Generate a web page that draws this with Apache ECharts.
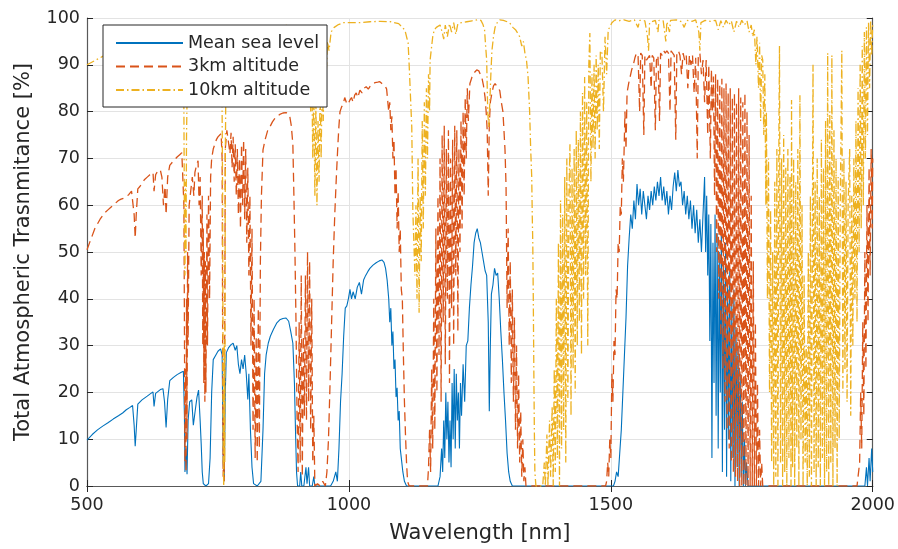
<!DOCTYPE html>
<html>
<head>
<meta charset="utf-8">
<script src="https://cdn.jsdelivr.net/npm/echarts@6/dist/echarts.min.js"></script>
<style>
html,body{margin:0;padding:0;background:#fff;}
#chart{width:898px;height:549px;}
</style>
</head>
<body>
<div id="chart"></div>
<script>
// ---- data (wavelength nm, transmittance %) ----
const seriesNames = ['Mean sea level', '3km altitude', '10km altitude'];
const xTicks = [500, 1000, 1500, 2000];
const yTicks = [0, 10, 20, 30, 40, 50, 60, 70, 80, 90, 100];

const seaLevel = [
[500,9.8],[510,11],[520,12],[530,12.8],[540,13.5],[550,14.3],[560,15],[568,15.6],[575,16.3],[582,16.8],[587,17.2],[590,13],[592,8.5],[594,12],[597,17.5],
[605,18.4],[615,19.2],[622,19.8],[626,20.1],[628,17],[631,19.8],[640,20.6],[645,20.8],[648,18],[651,12.5],[654,18.5],[658,22.5],[665,23.2],[672,23.8],[680,24.3],[684,24.5],
[686,15],[687,3],[689,8],[691,2.5],[693,14],[696,18],[700,18.4],[703,13],[706,15.6],[710,19],[713,20.5],[716,14],[718,9],[720,3],[722,0.5],[727,0],[732,0.5],
[735,6],[738,20],[741,27],[746,28],[750,28.8],[755,29.3],[758,28],[760,5],[762,1],[764,20],[766,28.5],[770,29.5],[775,30.2],[779,30.5],[783,29],[786,30],[789,26],
[792,24],[795,27],[798,25],[801,28],[804,24],[807,18.5],[809,24],[812,12],[815,4],[818,0.5],[825,0],[832,1],[836,12],[839,24],[842,28],[846,30.5],[850,32],
[856,33.5],[862,34.8],[868,35.5],[874,35.8],[880,35.9],[885,35.2],[889,33],[893,30.5],[896,22],[898,12],[900,3],[902,0],[906,0],[908,3],[910,0],[914,0],
[918,4],[920,0.5],[923,4],[925,0],[930,0],[933,2],[935,0],[965,0],[970,1],[975,3],[978,1],[981,8],[984,18],[987,24],[990,32],[993,38],[996,38.5],[999,40],
[1002,42],[1005,40],[1008,41.5],[1012,40],[1016,42.5],[1020,43.5],[1024,41],[1028,44],[1032,45],[1036,45.8],[1040,46.5],[1046,47.2],[1052,47.7],[1058,48.1],
[1063,48.3],[1067,47.8],[1070,46.5],[1073,44],[1076,40],[1078,35],[1080,38],[1082,30],[1084,33],[1086,25],[1088,27],[1090,19],[1092,21],[1094,14],[1096,16],
[1098,8],[1100,6],[1103,3],[1106,1],[1110,0],[1170,0],[1174,2],[1177,8],[1179,3],[1181,14],[1183,6],[1185,20],[1187,10],[1189,18],[1191,5],[1193,14],[1195,4],
[1197,22],[1199,10],[1201,25],[1203,8],[1205,24],[1207,14],[1209,20],[1211,8],[1213,22],[1215,15],[1218,26],[1221,18],[1224,30],[1227,31],[1230,38],[1233,43],
[1236,47],[1239,52],[1242,54],[1245,55],[1248,53],[1251,52],[1254,50],[1257,48],[1260,46],[1263,45],[1266,35],[1268,16],[1270,30],[1272,41],[1275,43],[1278,46.5],
[1281,45],[1284,45.5],[1287,40],[1290,33],[1293,27],[1296,20],[1299,14],[1302,7],[1305,3],[1308,1],[1312,0],[1505,0],[1508,1],[1511,3],[1514,2],[1517,7],
[1520,12],[1523,20],[1526,28],[1529,36],[1532,47],[1535,53],[1538,58],[1541,55],[1544,61],[1547,57],[1550,64.5],[1553,60],[1556,63.5],[1559,58],[1562,63],
[1565,60],[1568,57],[1571,62],[1574,59],[1577,63],[1580,60],[1583,64],[1586,61],[1589,65],[1592,62],[1595,66],[1598,61],[1601,64],[1604,60],[1607,63],[1610,58],
[1613,62],[1616,59],[1619,64],[1622,67],[1625,63],[1628,67.5],[1631,64],[1634,65],[1637,60],[1640,63],[1643,58],[1646,62],[1649,57],[1652,61],[1655,55],[1658,60],
[1661,54],[1664,59],[1667,52],[1670,57],[1673,50],[1676,58],[1679,66],[1681,50],[1683,62],[1685,45],[1687,58],[1689,31],[1691,56],[1693,6],[1695,52],[1697,22],
[1699,58],[1701,15],[1703,54],[1705,8],[1707,50],[1709,20],[1711,55],[1713,3],[1715,48],[1717,12],[1719,52],[1721,2],[1723,44],[1725,10],[1727,46],[1729,1],
[1731,40],[1733,6],[1735,42],[1737,0],[1739,34],[1741,4],[1743,30],[1745,0],[1747,24],[1749,2],[1751,18],[1753,0],[1755,10],[1757,0],[1759,5],[1762,0],
[1985,0],[1988,4],[1990,0],[1993,6],[1995,1],[1998,8],[2000,3]
];

const alt3km = [
[500,50.5],[505,52],[510,53.5],[515,55],[520,56],[525,57],[530,57.8],[535,58.5],[540,59],[545,59.5],[550,60],[555,60.5],[560,61],[565,61.3],[570,61.5],[575,61.8],
[580,62.3],[585,63],[588,63.3],[590,58],[592,53],[594,58],[597,63.5],[601,64],[605,64.7],[610,65.5],[615,66],[620,66.5],[626,67],[628,63],[631,66.5],[636,67.5],
[640,67.5],[643,66],[646,60],[649,64],[651,58],[654,66],[658,68.5],[663,69.2],[668,69.8],[672,70.3],[677,70.8],[681,71.2],[684,71.5],[685,60],[686,35],[687,5],
[688,25],[689,3],[690,40],[691,10],[692,50],[693,30],[695,60],[698,63],[701,66],[704,62],[706,67],[709,68.5],[712,69.5],[714,60],[716,66],[718,45],[720,62],
[721,30],[722,55],[723,22],[724,50],[725,18],[726,48],[727,20],[729,58],[730,30],[732,62],[734,40],[736,66],[738,70],[741,72],[744,73],[747,74],[750,74.6],
[753,75],[756,75.3],[758,70],[759,30],[760,2],[761,15],[762,1],[763,35],[764,72],[767,76],[770,76.2],[773,71],[775,75.5],[777,68],[779,74.6],[781,65],[783,73],
[785,62],[787,72],[789,58],[791,70],[793,55],[795,73],[797,60],[799,74],[801,57],[803,72],[805,52],[807,68],[809,45],[811,62],[813,30],[815,55],[817,12],
[819,40],[821,6],[823,32],[825,5],[827,38],[829,8],[831,48],[833,62],[836,71.8],[840,74],[845,76],[849,76.7],[854,77.8],[859,78.6],[863,79],[868,79.4],[874,79.7],
[880,79.8],[884,79.5],[887,79],[890,77],[893,73],[895,62],[897,50],[899,35],[901,15],[903,3],[905,35],[907,5],[909,45],[911,2],[913,32],[915,15],[917,45],
[919,14],[921,50],[923,18],[925,48],[927,12],[929,40],[931,5],[933,15],[935,0],[940,0.5],[945,0],[950,1],[955,0],[958,3],[961,10],[964,22],[967,35],[970,48],
[973,58],[976,66],[979,73],[981,77],[983,80],[986,81],[989,81.5],[992,83],[995,82],[998,81.5],[1002,82.5],[1005,83],[1008,82],[1011,83.5],[1014,84],[1017,83],
[1021,84.6],[1025,84],[1029,85],[1033,85.3],[1037,84.8],[1041,85.5],[1046,86],[1050,86.2],[1055,86.3],[1059,86.4],[1063,86],[1066,85.7],[1069,85.5],[1072,84.8],
[1074,84.6],[1076,80],[1078,82],[1080,76],[1082,79],[1084,70],[1086,74],[1088,62],[1090,68],[1092,55],[1094,63],[1096,50],[1098,55],[1100,42],[1102,40],[1104,28],
[1106,18],[1108,11],[1110,5],[1112,1],[1115,0],[1150,0],[1152,4],[1154,12],[1156,3],[1158,25],[1160,8],[1162,40],[1164,12],[1166,55],[1168,20],[1170,62],[1172,28],
[1174,70],[1176,18],[1178,75],[1180,35],[1182,77],[1184,26],[1186,72],[1188,40],[1190,76],[1192,22],[1194,70],[1196,38],[1198,74],[1200,30],[1202,77],[1204,45],
[1206,76],[1208,33],[1210,72],[1212,50],[1214,78],[1216,55],[1218,80],[1220,62],[1222,83],[1224,70],[1226,85],[1228,78],[1231,86],[1235,87.4],[1239,88.3],
[1244,88.9],[1248,88.7],[1251,88.4],[1254,87.2],[1257,85.5],[1260,83],[1262,80],[1264,76],[1266,62],[1268,77],[1270,82],[1273,84],[1276,85.5],[1279,86],
[1282,86],[1285,85],[1288,84.5],[1291,82],[1294,80],[1296,76],[1298,71.8],[1300,64],[1302,38],[1304,55],[1306,30],[1308,48],[1310,22],[1312,42],[1314,18],
[1316,36],[1318,12],[1320,30],[1322,8],[1324,24],[1326,5],[1328,16],[1330,2],[1332,10],[1334,1],[1336,4],[1338,0],[1490,0],[1492,1],[1494,5],[1496,2],
[1498,10],[1500,6],[1502,24],[1504,18],[1506,31],[1508,28],[1510,42],[1512,40],[1514,52],[1516,50],[1518,60],[1520,58],[1522,70],[1524,65],[1527,80],[1529,72],
[1531,84],[1534,86],[1537,87.5],[1540,89],[1543,90],[1546,91.5],[1549,92.5],[1552,92],[1555,80],[1557,92.5],[1560,92],[1563,75],[1565,92],[1568,91],[1571,91.5],
[1574,92],[1577,85],[1579,92],[1582,91.5],[1585,76],[1587,91],[1590,92],[1593,78],[1595,92.5],[1598,92],[1601,93],[1604,92.5],[1607,93],[1610,92.5],[1613,80],
[1615,93],[1618,93],[1621,92],[1624,74],[1626,92.5],[1629,93],[1632,92],[1635,88],[1638,92.5],[1641,91],[1644,92],[1647,85],[1650,92],[1653,90],[1656,92],
[1659,84],[1662,91.5],[1665,70],[1667,92],[1670,92.5],[1673,88],[1676,91],[1679,82],[1682,91],[1685,75],[1687,90],[1690,70],[1692,89],[1694,80],[1696,87.5],
[1698,62],[1700,88],[1702,50],[1704,87],[1706,40],[1708,86],[1710,32],[1712,87],[1714,25],[1716,85],[1718,18],[1720,86],[1722,12],[1724,84],[1726,8],[1728,85],
[1730,5],[1732,83],[1734,3],[1736,84],[1738,2],[1740,82],[1742,1],[1744,85],[1746,0],[1748,83],[1750,0],[1752,82],[1754,0],[1756,84],[1758,0],[1760,80],[1762,0],
[1764,75],[1766,0],[1768,62],[1770,0],[1772,48],[1774,0],[1776,35],[1778,0],[1780,22],[1782,0],[1784,12],[1786,0],[1788,5],[1790,0],[1970,0],[1975,5],
[1977,20],[1979,8],[1981,35],[1983,15],[1985,50],[1987,25],[1989,60],[1991,35],[1993,68],[1995,45],[1997,72],[1999,55],[2000,70]
];

const alt10km = [
[500,90],[510,90.6],[520,91.2],[530,91.8],[540,92.3],[550,92.8],[560,93.3],[570,93.7],[580,94.1],[590,94],[600,94.7],[615,95.2],[630,95.6],[645,96],[660,96.3],
[675,96.6],[684,96.7],[685,80],[686,55],[687,45],[688,65],[689,50],[690,75],[692,90],[695,96.5],[710,97],[720,95],[724,90],[727,93],[732,96],[740,97.3],
[750,97.5],[757,97.6],[759,60],[760,8],[761,0],[762,30],[763,5],[764,70],[766,97.5],[780,97.8],[800,97.5],[812,93],[818,88],[824,92],[830,96],[845,98],
[860,98.3],[880,98.4],[895,98],[898,90],[900,96],[905,94],[908,97],[912,92],[916,96],[920,88],[924,94],[927,80],[929,90],[931,70],[933,85],[935,62],[937,82],
[939,60],[941,78],[943,65],[945,85],[947,70],[949,88],[951,78],[953,92],[956,86],[959,95],[962,93],[966,97],[972,98],[980,98.6],[990,99],[1000,99],[1020,99],
[1040,99.2],[1060,99.3],[1080,99.2],[1095,98.8],[1102,98],[1107,97.4],[1110,96],[1113,94.7],[1115,90],[1116,87.4],[1118,82],[1120,76.7],[1121,68],[1122,59],
[1124,52],[1126,45],[1128,60],[1130,40],[1132,70],[1134,37],[1136,62],[1138,48],[1140,78],[1142,55],[1144,82],[1146,62],[1148,85],[1150,70],[1152,88],[1154,80],
[1155,91],[1158,94],[1160,96],[1163,97.5],[1167,98],[1174,98.5],[1178,97],[1181,95.5],[1184,98.5],[1188,96],[1192,98.8],[1196,97],[1200,99],[1204,96.5],
[1208,98.8],[1215,99],[1225,99.2],[1235,99.4],[1245,99.6],[1252,99.5],[1256,98.6],[1259,97.4],[1261,94],[1263,91],[1265,80],[1267,76.7],[1269,82],[1271,88],
[1273,93],[1276,96],[1279,98],[1284,99.2],[1288,99.6],[1295,99.5],[1302,99.2],[1308,98.8],[1313,98],[1318,97.5],[1322,96.8],[1326,96],[1330,94],[1333,95],
[1336,92.5],[1339,91],[1342,87.4],[1345,80],[1347,72],[1349,66],[1350,58],[1351,52],[1352,40],[1353,25],[1354,12],[1355,3],[1357,0],[1370,0],[1373,5],[1375,0],
[1378,11],[1380,0],[1383,14],[1385,2],[1388,17],[1390,0],[1392,25],[1394,3],[1396,40],[1398,6],[1400,52],[1402,0],[1404,61],[1406,8],[1408,58],[1410,12],
[1412,66],[1414,5],[1416,70],[1418,18],[1420,62],[1422,73],[1424,15],[1426,68],[1428,25],[1430,72],[1432,20],[1434,76],[1436,30],[1438,74],[1440,35],[1442,80],
[1444,28],[1446,84],[1448,40],[1450,87.4],[1452,45],[1454,82],[1456,30],[1458,90],[1460,96.8],[1462,65],[1464,88],[1466,72],[1468,90],[1470,70],[1472,92],
[1474,76],[1476,90],[1478,72],[1480,93],[1483,92.5],[1486,80],[1489,96],[1492,88],[1495,97.5],[1498,98],[1502,99],[1508,99.6],[1515,99.4],[1525,99.6],
[1535,99.3],[1545,99.6],[1552,98],[1555,99.5],[1565,99.4],[1570,96],[1572,93],[1574,99],[1585,99.5],[1590,97],[1592,99.5],[1600,99.4],[1605,95],[1607,99.2],
[1612,97],[1614,99.5],[1625,99.6],[1635,99.2],[1640,98],[1645,99.5],[1655,99.3],[1662,99.6],[1668,97],[1670,93],[1672,99],[1680,99.5],[1690,99.3],[1700,99.5],
[1705,97.5],[1710,99.4],[1715,98],[1720,99.5],[1725,98.5],[1730,99.4],[1735,97],[1740,99.3],[1745,98],[1750,99.5],[1755,98.5],[1760,99.4],[1764,97],[1768,98.5],
[1771,96],[1774,97.5],[1777,90],[1779,96],[1782,85],[1784,94.7],[1786,78],[1788,92],[1790,91],[1792,75],[1794,88],[1796,60],[1797,80],[1799,40],[1801,70],
[1803,20],[1805,59],[1807,5],[1809,50],[1811,0],[1813,65],[1815,2],[1817,72],[1819,0],[1821,78],[1822,94],[1824,5],[1826,70],[1828,0],[1830,75],[1832,3],
[1834,68],[1836,0],[1838,72],[1840,6],[1842,66],[1844,0],[1845,82.5],[1847,4],[1849,70],[1851,0],[1853,65],[1855,8],[1857,72],[1859,0],[1861,83.5],[1863,10],
[1865,60],[1867,0],[1869,45],[1871,5],[1873,30],[1875,0],[1877,50],[1879,2],[1881,62],[1883,0],[1886,90],[1888,3],[1890,65],[1892,0],[1894,70],[1896,4],
[1898,62],[1900,0],[1902,74],[1904,6],[1906,68],[1908,0],[1910,78],[1912,3],[1914,92.5],[1916,0],[1918,80],[1920,5],[1922,92],[1924,0],[1926,76],[1928,8],
[1930,70],[1932,0],[1934,66],[1936,10],[1938,60],[1941,93],[1943,20],[1945,70],[1947,25],[1949,65],[1951,18],[1953,60],[1956,72],[1958,15],[1960,62],[1962,30],
[1964,70],[1966,40],[1968,78],[1970,35],[1972,85],[1974,50],[1976,90],[1978,55],[1980,94],[1982,60],[1984,97],[1986,70],[1988,98],[1990,75],[1992,99],
[1994,85],[1996,99.5],[1998,92],[2000,99]
];

const colors = ['#0072BD', '#D95319', '#EDB120'];
const dashes = ['solid', [9, 5], [8, 3, 1.5, 3]];
const datasets = [seaLevel, alt3km, alt10km];

const FONT = 'DejaVu Sans';
const TXT = '#262626';
const AX = '#595959';

const chart = echarts.init(document.getElementById('chart'), null, {renderer: 'canvas'});
const baseAxisLine = {show: true, lineStyle: {color: AX, width: 1.2}};
chart.setOption({
  animation: false,
  backgroundColor: '#ffffff',
  grid: {left: 87, right: 25, top: 18, bottom: 63, containLabel: false},
  legend: {
    orient: 'vertical',
    left: 103, top: 25,
    z: 20,
    padding: [8, 8, 7, 12],
    itemWidth: 67, itemHeight: 14, itemGap: 3.5,
    borderColor: '#262626', borderWidth: 1,
    backgroundColor: '#ffffff',
    itemStyle: {color: 'rgba(255,255,255,0)', borderColor: 'rgba(255,255,255,0)', borderWidth: 0},
    textStyle: {fontFamily: FONT, fontSize: 17.5, color: TXT, lineHeight: 20},
    data: seriesNames
  },
  xAxis: [{
    type: 'value', min: xTicks[0], max: xTicks[xTicks.length - 1], interval: 500,
    position: 'bottom',
    name: 'Wavelength [nm]', nameLocation: 'middle', nameGap: 37,
    nameTextStyle: {fontFamily: FONT, fontSize: 21, color: TXT},
    axisLine: baseAxisLine,
    axisTick: {show: true, inside: true, length: 6, lineStyle: {color: TXT}},
    axisLabel: {fontFamily: FONT, fontSize: 17.5, color: TXT, margin: 10, formatter: v => String(v)},
    splitLine: {show: true, lineStyle: {color: '#e3e3e3', width: 1}}
  }, {
    type: 'value', min: xTicks[0], max: xTicks[xTicks.length - 1], interval: 500,
    position: 'top',
    axisLine: baseAxisLine,
    axisTick: {show: true, inside: true, length: 6, lineStyle: {color: TXT}},
    axisLabel: {show: false}, splitLine: {show: false}
  }],
  yAxis: [{
    type: 'value', min: yTicks[0], max: yTicks[yTicks.length - 1], interval: 10,
    position: 'left',
    name: 'Total Atmospheric Trasnmitance [%]', nameLocation: 'middle', nameGap: 53,
    nameTextStyle: {fontFamily: FONT, fontSize: 21, color: TXT},
    axisLine: baseAxisLine,
    axisTick: {show: true, inside: true, length: 6, lineStyle: {color: TXT}},
    axisLabel: {fontFamily: FONT, fontSize: 17.5, color: TXT, margin: 7, formatter: v => String(v)},
    splitLine: {show: true, lineStyle: {color: '#e3e3e3', width: 1}}
  }, {
    type: 'value', min: yTicks[0], max: yTicks[yTicks.length - 1], interval: 10,
    position: 'right',
    axisLine: baseAxisLine,
    axisTick: {show: true, inside: true, length: 6, lineStyle: {color: TXT}},
    axisLabel: {show: false}, splitLine: {show: false}
  }],
  series: seriesNames.map((name, i) => ({
    name: name,
    type: 'line',
    xAxisIndex: 0, yAxisIndex: 0,
    data: datasets[i],
    showSymbol: false,
    symbol: 'none',
    sampling: null,
    clip: true,
    color: colors[i],
    lineStyle: {color: colors[i], width: i === 0 ? 1.1 : 1.3, type: dashes[i]},
    emphasis: {disabled: true},
    z: 2
  }))
});
</script>
</body>
</html>
